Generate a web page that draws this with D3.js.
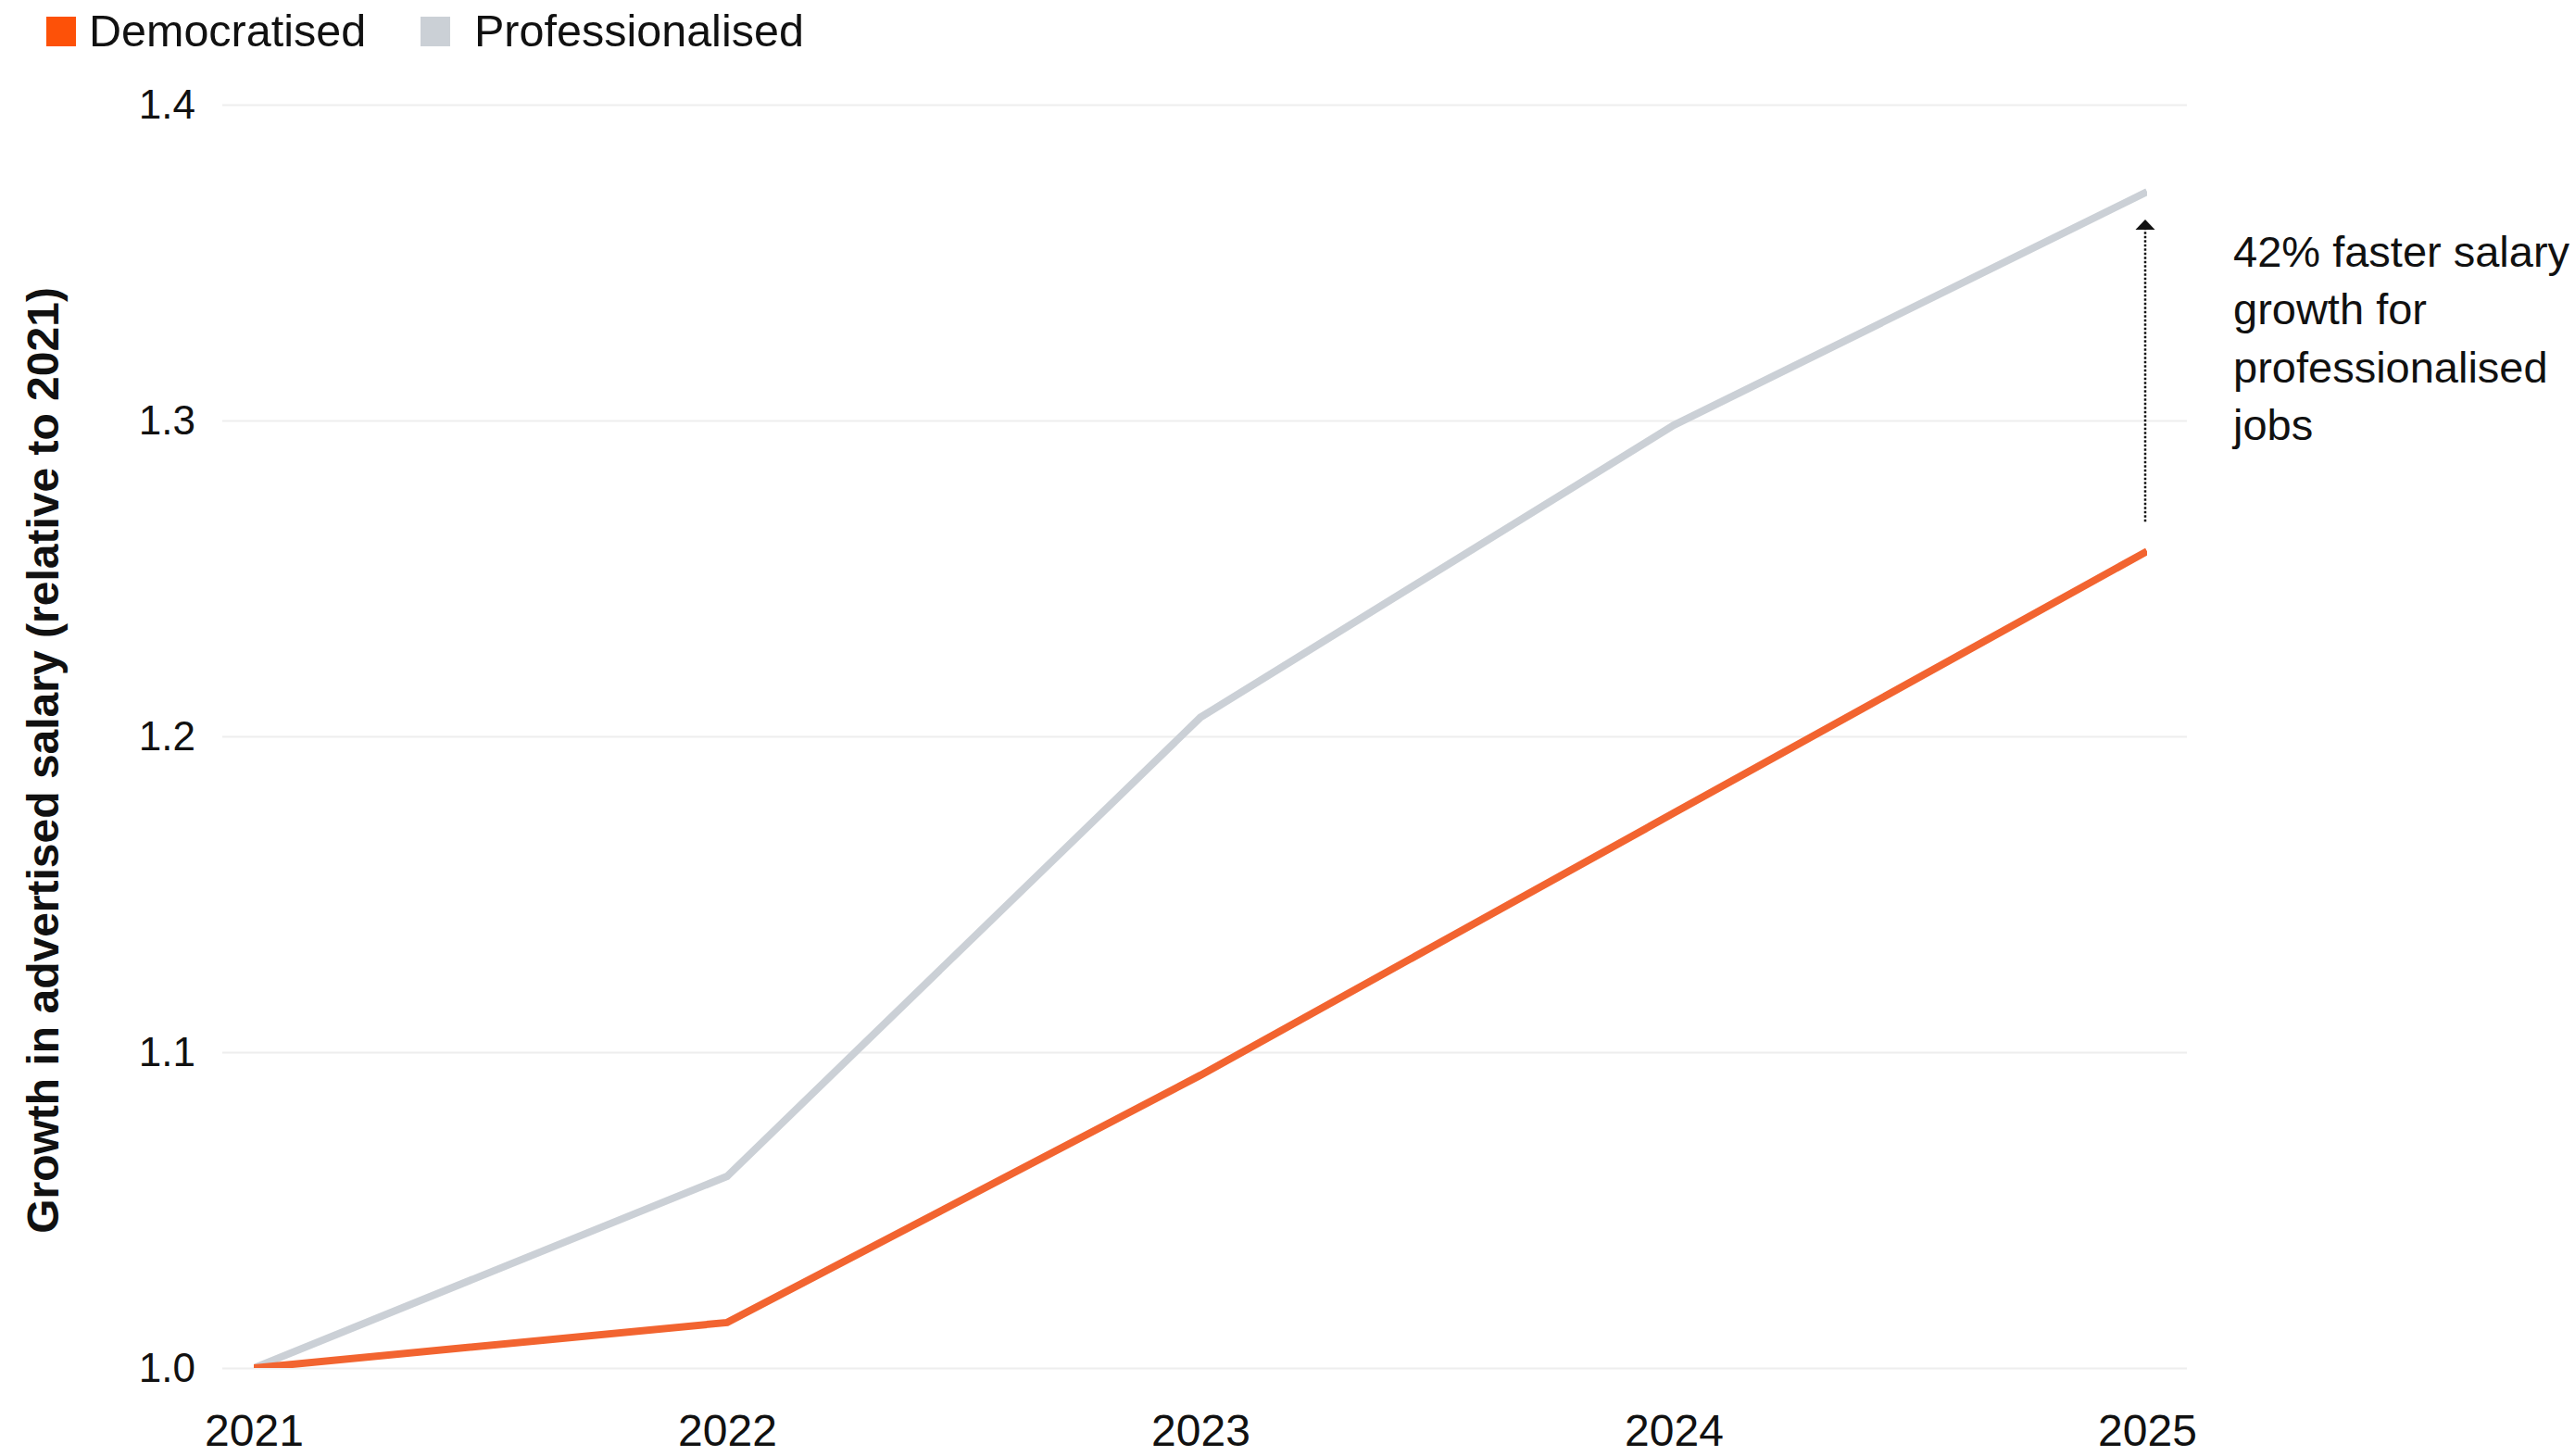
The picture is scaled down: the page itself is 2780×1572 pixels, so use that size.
<!DOCTYPE html>
<html>
<head>
<meta charset="utf-8">
<script src="https://cdn.jsdelivr.net/npm/d3@7"></script>
<style>
  body { margin: 0; background: #fff; }
  svg { display: block; font-family: "Liberation Sans", Arial, sans-serif; }
</style>
</head>
<body>
<div id="chart"></div>
<script>
// Daten
const years = ["2021", "2022", "2023", "2024", "2025"];
const democratised = [1.0, 1.0144, 1.0927, 1.1757, 1.2586];
const professionalised = [1.0, 1.0607, 1.206, 1.2985, 1.3724];
const yTicks = [1.0, 1.1, 1.2, 1.3, 1.4];
const seriesNames = ["Democratised", "Professionalised"];
const annotationLines = ["42% faster salary", "growth for", "professionalised", "jobs"];

const width = 2780;
const height = 1572;

const svg = d3.select("#chart").append("svg")
  .attr("width", width)
  .attr("height", height);

const x = d3.scalePoint()
  .domain(years)
  .range([274, 2318]);

const y = d3.scaleLinear()
  .domain([1.0, 1.4])
  .range([1477, 113]);

// Gitterlinien + y-Achse
const gridLeft = 240, gridRight = 2361;
const yAxis = svg.append("g")
  .attr("transform", `translate(${gridLeft},0)`)
  .call(d3.axisLeft(y).tickValues(yTicks).tickFormat(d3.format(".1f"))
    .tickSize(-(gridRight - gridLeft)).tickPadding(29));
yAxis.select(".domain").remove();
yAxis.selectAll(".tick line").attr("stroke", "#eeeeee").attr("stroke-width", 2);
yAxis.selectAll(".tick text")
  .attr("fill", "#111")
  .style("font-size", "44px");

// x-Achse
const xAxis = svg.append("g")
  .attr("transform", `translate(0,${y(1.0)})`)
  .call(d3.axisBottom(x).tickSize(0));
xAxis.select(".domain").remove();
xAxis.selectAll(".tick text")
  .attr("fill", "#111")
  .attr("y", 84)
  .attr("dy", 0)
  .style("font-size", "48px");

// Achsentitel
svg.append("text")
  .attr("transform", "translate(63,821) rotate(-90)")
  .attr("text-anchor", "middle")
  .style("font-size", "48px")
  .style("font-weight", "bold")
  .attr("fill", "#111")
  .text("Growth in advertised salary (relative to 2021)");

// Linien (auf Plotbereich beschnitten)
svg.append("clipPath").attr("id", "plot-clip")
  .append("rect")
  .attr("x", x(years[0]))
  .attr("y", 0)
  .attr("width", x(years[years.length - 1]) - x(years[0]))
  .attr("height", y(1.0));

const line = d3.line()
  .x((d, i) => x(years[i]))
  .y(d => y(d));

svg.append("path")
  .datum(professionalised)
  .attr("clip-path", "url(#plot-clip)")
  .attr("fill", "none")
  .attr("stroke", "#cbd0d6")
  .attr("stroke-width", 8)
  .attr("stroke-linejoin", "miter")
  .attr("d", line);

svg.append("path")
  .datum(democratised)
  .attr("clip-path", "url(#plot-clip)")
  .attr("fill", "none")
  .attr("stroke", "#f26430")
  .attr("stroke-width", 8)
  .attr("stroke-linejoin", "miter")
  .attr("d", line);

// Legende
const legendColors = ["#fd5108", "#cbd0d6"];
const legendX = [50, 454];
const legendTextX = [96, 512];
const legend = svg.append("g");
seriesNames.forEach((name, i) => {
  legend.append("rect")
    .attr("x", legendX[i])
    .attr("y", 18)
    .attr("width", 32)
    .attr("height", 32)
    .attr("fill", legendColors[i]);
  legend.append("text")
    .attr("x", legendTextX[i])
    .attr("y", 50)
    .style("font-size", "48.5px")
    .attr("fill", "#111")
    .text(name);
});

// Annotation: Pfeil
const lastIdx = years.length - 1;
const ax = x(years[lastIdx]) - 2;
const yTop = y(professionalised[lastIdx]) + 41;
const yBottom = y(democratised[lastIdx]) - 32;

svg.append("line")
  .attr("x1", ax).attr("x2", ax)
  .attr("y1", yBottom).attr("y2", yTop)
  .attr("stroke", "#111")
  .attr("stroke-width", 2.5)
  .attr("stroke-dasharray", "2.5,2");

svg.append("path")
  .attr("d", `M${ax - 10.5},${yTop} L${ax + 10.5},${yTop} L${ax},${yTop - 11} Z`)
  .attr("fill", "#111");

// Annotation: Text
const note = svg.append("text")
  .attr("x", 2411)
  .attr("y", 288)
  .style("font-size", "47px")
  .attr("fill", "#111");
note.selectAll("tspan")
  .data(annotationLines)
  .enter()
  .append("tspan")
  .attr("x", 2411)
  .attr("dy", (d, i) => i === 0 ? 0 : 62.3)
  .text(d => d);
</script>
</body>
</html>
